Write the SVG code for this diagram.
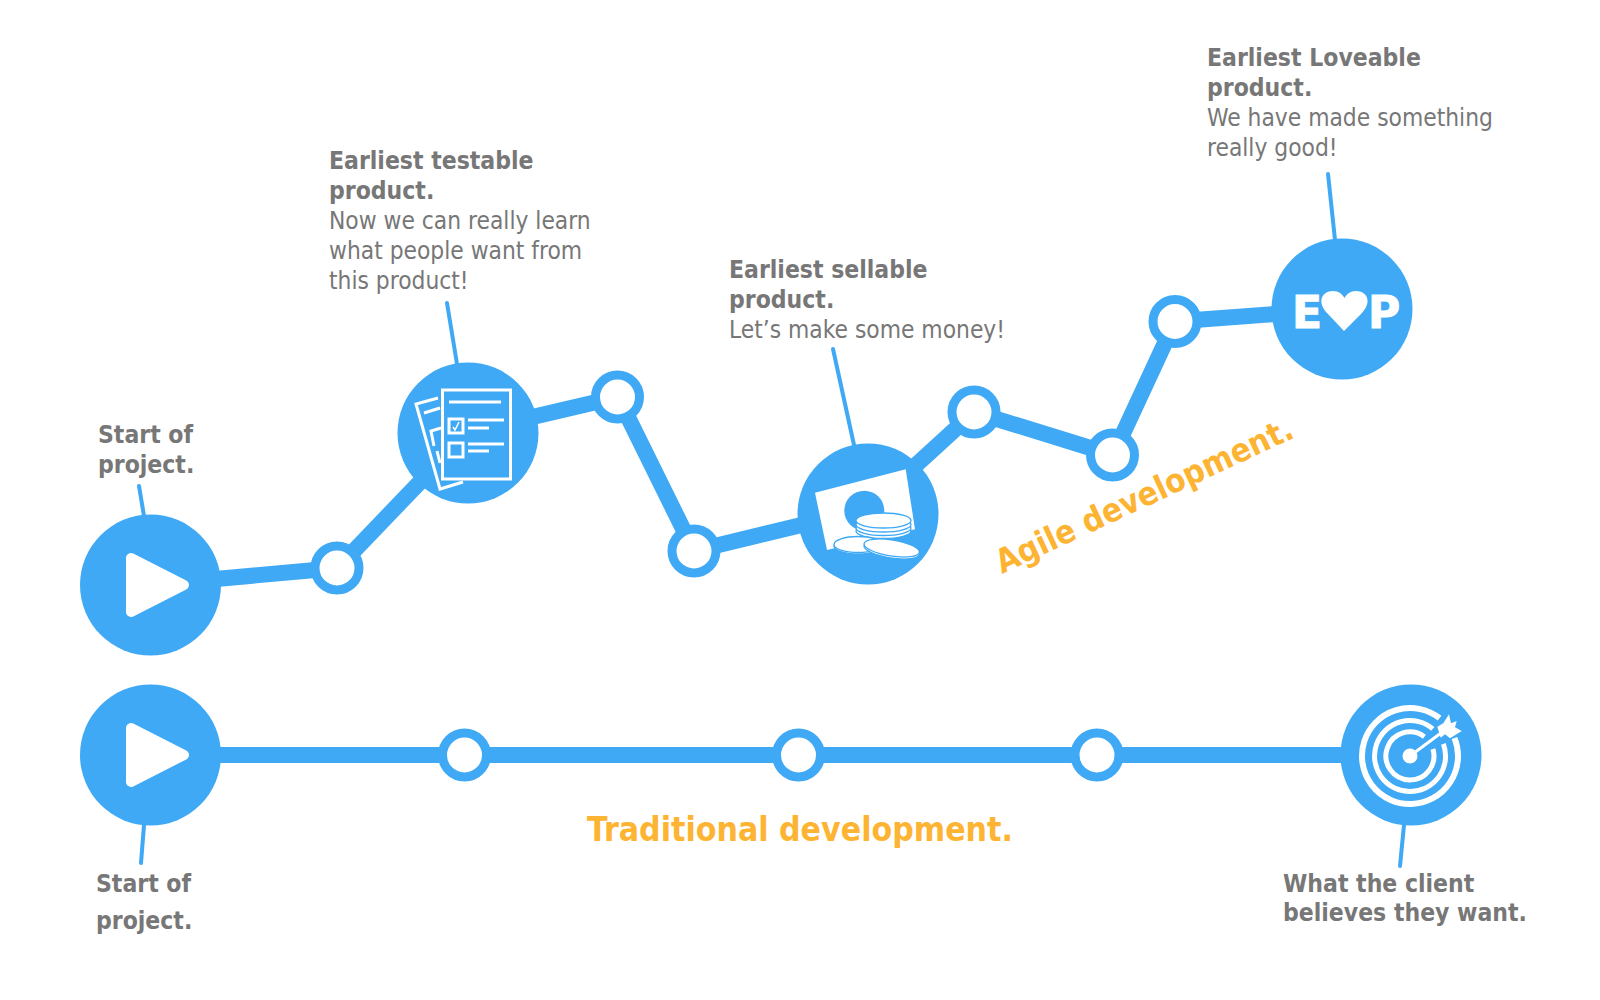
<svg xmlns="http://www.w3.org/2000/svg" width="1600" height="1000" viewBox="0 0 1600 1000">
<style>
.l{fill:none;stroke:#3fa9f5;stroke-width:16}
.t{fill:none;stroke:#3fa9f5;stroke-width:4;stroke-linecap:round}
.c{fill:#3fa9f5}
.r{fill:#fff;stroke:#3fa9f5;stroke-width:9}
.i{fill:none;stroke:#fff;stroke-width:3}
.w{fill:#fff}
.p{fill:#fff;stroke:#fff;stroke-width:10;stroke-linejoin:round}
.e{fill:#fff;stroke:#3fa9f5;stroke-width:1.3}
.a{fill:none;stroke:#fff}
.g{font-size:44px;font-weight:700;fill:#fff;stroke:#fff;stroke-width:1;font-family:"DejaVu Sans",sans-serif}
text{font-family:"DejaVu Sans Condensed","DejaVu Sans",Verdana,sans-serif;font-size:24.3px;fill:#777}
.b{font-weight:700;fill:#777;font-size:24.5px}
.o{font-weight:700;fill:#fdb433;font-size:33.500px}
</style>
<g id="connectors">
<polyline class="l" points="150,585 337.500,568 468,432 618,397 694,551 868,509 974,412 1113,455 1175,321.500 1342,309"/>
<line class="l" x1="150" y1="755" x2="1411" y2="755"/>
<line class="t" x1="139" y1="486" x2="144" y2="516"/>
<line class="t" x1="447" y1="303" x2="457" y2="364"/>
<line class="t" x1="833" y1="349" x2="854" y2="445"/>
<line class="t" x1="1328" y1="174" x2="1335" y2="240"/>
<line class="t" x1="144" y1="825" x2="141" y2="863"/>
<line class="t" x1="1404" y1="825" x2="1400" y2="866"/>
</g>
<g id="start-agile"><circle class="c" cx="150.500" cy="585" r="70.500"/><path class="p" d="M131,558 L131,612 L184,585 Z"/></g>
<g id="agile-start-label"><text class="b" x="98" y="443">Start of</text><text class="b" x="98" y="473">project.</text></g>
<g id="ring-a1"><circle class="r" cx="337" cy="568" r="22"/></g>
<g id="testable"><circle class="c" cx="468" cy="433" r="70.500"/>
<path class="i" d="M438,398 L416,404 L440,489 L463,482"/>
<path class="i" d="M424,413 L440,408 M441,428 L431,431 L434,446 M437,451 L440,463"/>
<rect class="i" x="442.500" y="390" width="68" height="89"/>
<path class="i" d="M449,402 H501 M468,420 H504 M468,428 H489 M468,444 H504 M468,451 H489"/>
<rect class="i" x="449" y="419" width="14" height="14"/><rect class="i" x="449" y="443" width="14" height="14"/>
<path class="i" d="M453,427 L455,430 L459,422" style="stroke-width:1.500"/>
</g>
<g id="testable-label"><text class="b" x="329" y="169">Earliest testable</text><text class="b" x="329" y="199">product.</text><text x="329" y="229">Now we can really learn</text><text x="329" y="259">what people want from</text><text x="329" y="289">this product!</text></g>
<g id="ring-a2"><circle class="r" cx="617.500" cy="397" r="22"/></g>
<g id="ring-a3"><circle class="r" cx="694" cy="551" r="22"/></g>
<g id="sellable"><circle class="c" cx="868" cy="514" r="70.500"/>
<path class="w" d="M815,492.700 L905.700,469.300 L915,529.300 L827,550 Z"/>
<circle class="c" cx="864.300" cy="510.700" r="20"/>
<ellipse class="e" cx="883.500" cy="531" rx="27.500" ry="7.500"/><ellipse class="e" cx="883.500" cy="528" rx="27.500" ry="7.500"/><ellipse class="e" cx="883.500" cy="524.500" rx="27.500" ry="7.500"/><ellipse class="e" cx="883.500" cy="520.500" rx="27.500" ry="7.500"/>
<ellipse class="e" cx="858" cy="546" rx="24" ry="8"/><ellipse class="e" cx="858" cy="544.500" rx="24" ry="8"/>
<ellipse class="e" cx="891.700" cy="550" rx="28" ry="8" transform="rotate(9 891.700 550)"/><ellipse class="e" cx="891.700" cy="548" rx="28" ry="8" transform="rotate(9 891.700 548)"/>
</g>
<g id="sellable-label"><text class="b" x="729" y="278">Earliest sellable</text><text class="b" x="729" y="308">product.</text><text x="729" y="338">Let’s make some money!</text></g>
<g id="ring-a4"><circle class="r" cx="974" cy="412" r="22"/></g>
<g id="ring-a5"><circle class="r" cx="1112.500" cy="455" r="22"/></g>
<g id="ring-a6"><circle class="r" cx="1175" cy="321.500" r="22"/></g>
<g id="lovable"><circle class="c" cx="1342" cy="309" r="70.500"/>
<text class="g" x="1292" y="328">E</text>
<path class="w" d="M1344,331 L1328,314 C1316,302 1322,291 1333,291 C1339,291 1342,294 1344.500,298 C1347,294 1350,291 1356,291 C1367,291 1373,302 1361,314 Z"/>
<text class="g" x="1368" y="328">P</text>
</g>
<g id="lovable-label"><text class="b" x="1207" y="66">Earliest Loveable</text><text class="b" x="1207" y="96">product.</text><text x="1207" y="126">We have made something</text><text x="1207" y="156">really good!</text></g>
<g id="agile-title"><text class="o" style="font-size:32.900px" transform="translate(1002 574) rotate(-25)">Agile development.</text></g>
<g id="start-trad"><circle class="c" cx="150.500" cy="755" r="70.500"/><path class="p" d="M131,728 L131,782 L184,755 Z"/></g>
<g id="ring-b1"><circle class="r" cx="464.500" cy="755" r="22"/></g>
<g id="ring-b2"><circle class="r" cx="798.500" cy="755" r="22"/></g>
<g id="ring-b3"><circle class="r" cx="1097" cy="755" r="22"/></g>
<g id="target"><circle class="c" cx="1411" cy="755" r="70.500"/>
<path class="a" stroke-width="6" d="M1439.600,718.200 A48,48 0 1 0 1454.500,738"/>
<path class="a" stroke-width="5" d="M1432.800,728.800 A35.500,35.500 0 1 0 1443.400,743.900"/>
<path class="a" stroke-width="5" d="M1424.400,736.800 A24,24 0 1 0 1432.900,749"/>
<circle class="w" cx="1410" cy="756" r="7.500"/>
<path class="a" stroke-width="3" d="M1410,756 L1441,733"/>
<path class="w" d="M1437.300,726.700 L1443.300,723.300 L1449,714.300 L1451,723.300 L1456.700,721 L1455,727.300 L1461.700,731 L1450,738.300 L1445,734.300 L1440.700,737.700 Z"/>
</g>
<g id="trad-start-label"><text class="b" x="96" y="892">Start of</text><text class="b" x="96" y="929">project.</text></g>
<g id="target-label"><text class="b" x="1283" y="892">What the client</text><text class="b" x="1283" y="921">believes they want.</text></g>
<g id="trad-title"><text class="o" x="587" y="841">Traditional development.</text></g>
</svg>
